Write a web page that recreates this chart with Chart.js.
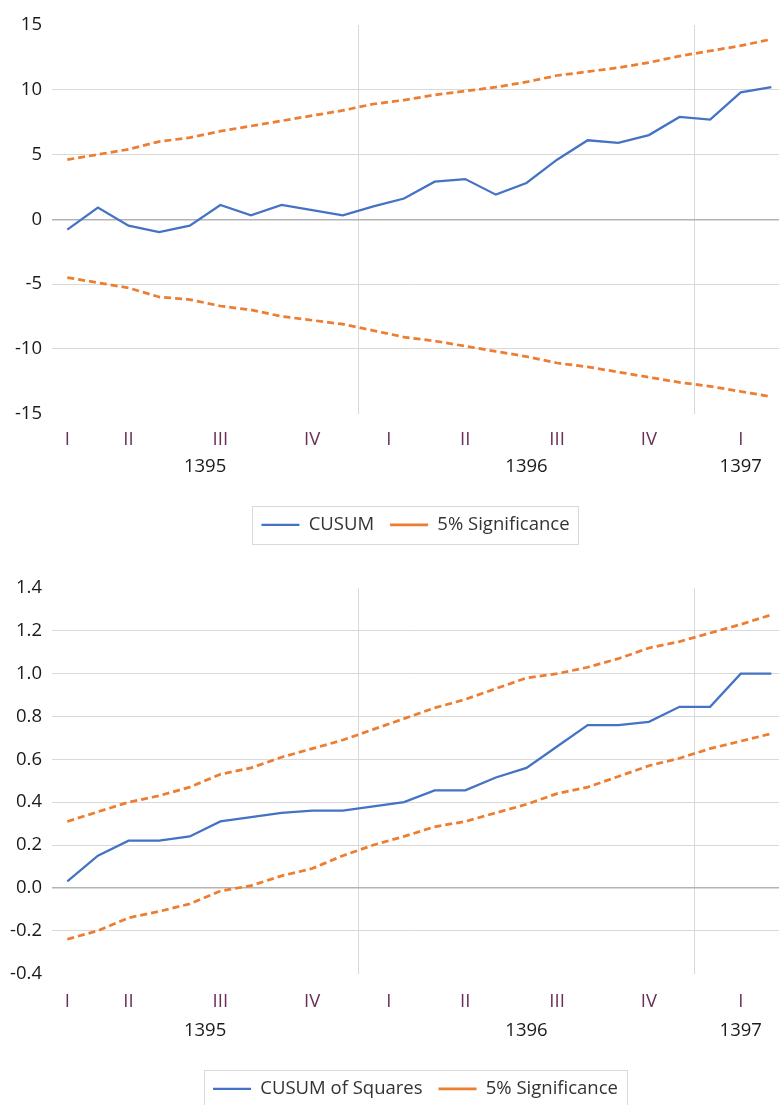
<!DOCTYPE html>
<html>
<head>
<meta charset="utf-8">
<script src="https://cdn.jsdelivr.net/npm/chart.js@4/dist/chart.umd.min.js"></script>
<style>
  body { margin: 0; background: #fff; overflow: hidden; }
  .box { position: absolute; left: 0; width: 779px; }
  #top { top: 0; height: 546px; }
  #bottom { top: 562px; height: 548px; }
</style>
</head>
<body>
<div class="box" id="top"><canvas id="cusum"></canvas></div>
<div class="box" id="bottom"><canvas id="cusumsq"></canvas></div>
<script>
// x positions are month indexes 0..23, grouped by quarter and year
var quarterLabels = ['I', 'II', 'III', 'IV', 'I', 'II', 'III', 'IV', 'I'];
var quarterPos = [0, 2, 5, 8, 10.5, 13, 16, 19, 22];
var yearLabels = ['1395', '1396', '1397'];
var yearPos = [4.5, 15, 22];
var yearBreaks = [9.5, 20.5];

var cusum = [-0.8, 0.9, -0.5, -1.0, -0.5, 1.1, 0.3, 1.1, 0.7, 0.3, 1.0, 1.6, 2.9, 3.1, 1.9, 2.8, 4.6, 6.1, 5.9, 6.5, 7.9, 7.7, 9.8, 10.2];
var cusumUpper = [4.6, 5.0, 5.4, 6.0, 6.3, 6.8, 7.2, 7.6, 8.0, 8.4, 8.9, 9.2, 9.6, 9.9, 10.2, 10.6, 11.1, 11.4, 11.7, 12.1, 12.6, 13.0, 13.4, 13.9];
var cusumLower = [-4.5, -4.9, -5.3, -6.0, -6.2, -6.7, -7.0, -7.5, -7.8, -8.1, -8.6, -9.1, -9.4, -9.8, -10.2, -10.6, -11.1, -11.4, -11.8, -12.2, -12.6, -12.9, -13.3, -13.7];

var cusumSq = [0.03, 0.15, 0.22, 0.22, 0.24, 0.31, 0.33, 0.35, 0.36, 0.36, 0.38, 0.40, 0.455, 0.455, 0.515, 0.56, 0.66, 0.76, 0.76, 0.775, 0.845, 0.845, 1.0, 1.0];
var sqUpper = [0.31, 0.355, 0.40, 0.43, 0.47, 0.53, 0.56, 0.61, 0.65, 0.69, 0.74, 0.79, 0.84, 0.88, 0.93, 0.98, 1.0, 1.03, 1.07, 1.12, 1.15, 1.19, 1.23, 1.275];
var sqLower = [-0.24, -0.20, -0.14, -0.11, -0.075, -0.015, 0.01, 0.056, 0.09, 0.15, 0.2, 0.24, 0.285, 0.31, 0.35, 0.39, 0.44, 0.47, 0.52, 0.57, 0.605, 0.65, 0.685, 0.72];

var FONT = "'Open Sans', sans-serif";
var SIZE = 18.5;
var blue = '#4472C4', orange = '#ED7D31';

// draws the thin frame round the legend, like Excel does
var legendFrame = {
  id: 'legendFrame',
  afterDraw: (chart) => {
    var boxes = chart.legend.legendHitBoxes;
    if (!boxes || !boxes.length) return;
    var left = Math.min.apply(null, boxes.map(b => b.left)) - 9;
    var right = Math.max.apply(null, boxes.map(b => b.left + b.width)) + 9;
    var mid = boxes[0].top + boxes[0].height / 2;
    var ctx = chart.ctx;
    ctx.save();
    ctx.strokeStyle = '#d9d9d9';
    ctx.lineWidth = 1;
    ctx.strokeRect(Math.round(left) + 0.5, Math.round(mid - 19) + 0.5, Math.round(right - left), 38);
    ctx.restore();
  }
};

var makeChart = (el, series, names, yOpts, lay) => {
  var pts = (arr) => arr.map((v, i) => ({x: i, y: v}));
  var datasets = [
    {label: names[0], data: pts(series[0]), borderColor: blue, borderWidth: 2.25},
    {label: names[1], data: pts(series[1]), borderColor: orange, borderWidth: 2.75, borderDash: [7, 4]},
    {label: names[1], data: pts(series[2]), borderColor: orange, borderWidth: 2.75, borderDash: [7, 4]}
  ];

  var fixed = (list) => (axis) => { axis.ticks = list.map(v => ({value: v})); };
  var xBase = {type: 'linear', min: -0.5, max: 23.25, position: 'bottom', border: {display: false}};

  return new Chart(el, {
    type: 'line',
    data: {datasets: datasets},
    plugins: [legendFrame],
    options: {
      responsive: true,
      maintainAspectRatio: false,
      animation: false,
      layout: {padding: {top: lay.top, left: 0, right: 0, bottom: 2}},
      elements: {
        point: {radius: 0},
        line: {tension: 0, fill: false}
      },
      plugins: {
        tooltip: {enabled: false},
        legend: {
          position: 'bottom',
          fullSize: false,
          labels: {
            usePointStyle: true,
            pointStyle: 'line',
            pointStyleWidth: 38,
            padding: 16,
            color: '#333333',
            font: {family: FONT, size: SIZE},
            filter: (item) => item.datasetIndex < 2
          }
        }
      },
      scales: {
        x: Object.assign({}, xBase, {
          weight: 0,
          afterBuildTicks: fixed(yearBreaks),
          afterFit: (s) => { s.height = 0; },
          ticks: {display: false},
          grid: {color: '#d9d9d9', drawTicks: false}
        }),
        xq: Object.assign({}, xBase, {
          weight: 1,
          afterBuildTicks: fixed(quarterPos),
          afterFit: (s) => { s.height = lay.qH; },
          grid: {display: false, drawTicks: false},
          ticks: {
            padding: lay.qPad,
            maxRotation: 0,
            autoSkip: false,
            color: '#6b2f57',
            font: {family: FONT, size: SIZE},
            callback: (v, i) => quarterLabels[i]
          }
        }),
        xy: Object.assign({}, xBase, {
          weight: 2,
          afterBuildTicks: fixed(yearPos),
          afterFit: (s) => { s.height = lay.yH; },
          grid: {display: false, drawTicks: false},
          ticks: {
            padding: lay.yPad,
            maxRotation: 0,
            autoSkip: false,
            color: '#1a1a1a',
            font: {family: FONT, size: SIZE},
            callback: (v, i) => yearLabels[i]
          }
        }),
        y: {
          min: yOpts.min,
          max: yOpts.max,
          afterFit: (s) => { s.width = 52; },
          border: {display: false},
          grid: {
            drawTicks: false,
            color: (c) => {
              if (Math.abs(c.tick.value - yOpts.min) < 1e-9 || Math.abs(c.tick.value - yOpts.max) < 1e-9) return 'rgba(0,0,0,0)';
              return Math.abs(c.tick.value) < 1e-9 ? '#b3b3b3' : '#d9d9d9';
            },
            lineWidth: (c) => Math.abs(c.tick.value) < 1e-9 ? 1.5 : 1
          },
          ticks: {
            stepSize: yOpts.step,
            padding: 10,
            color: '#1a1a1a',
            font: {family: FONT, size: SIZE},
            callback: yOpts.fmt
          }
        }
      }
    }
  });
};

makeChart(document.getElementById('cusum'),
  [cusum, cusumUpper, cusumLower],
  ['CUSUM', '5% Significance'],
  {min: -15, max: 15, step: 5, fmt: (v) => v},
  {top: 25, qH: 36, qPad: 15.5, yH: 50, yPad: 6.5});

makeChart(document.getElementById('cusumsq'),
  [cusumSq, sqUpper, sqLower],
  ['CUSUM of Squares', '5% Significance'],
  {min: -0.4, max: 1.4, step: 0.2, fmt: (v) => (Math.abs(v) < 1e-9 ? 0 : v).toFixed(1)},
  {top: 26, qH: 40, qPad: 17.5, yH: 50, yPad: 6.5});
</script>
</body>
</html>
